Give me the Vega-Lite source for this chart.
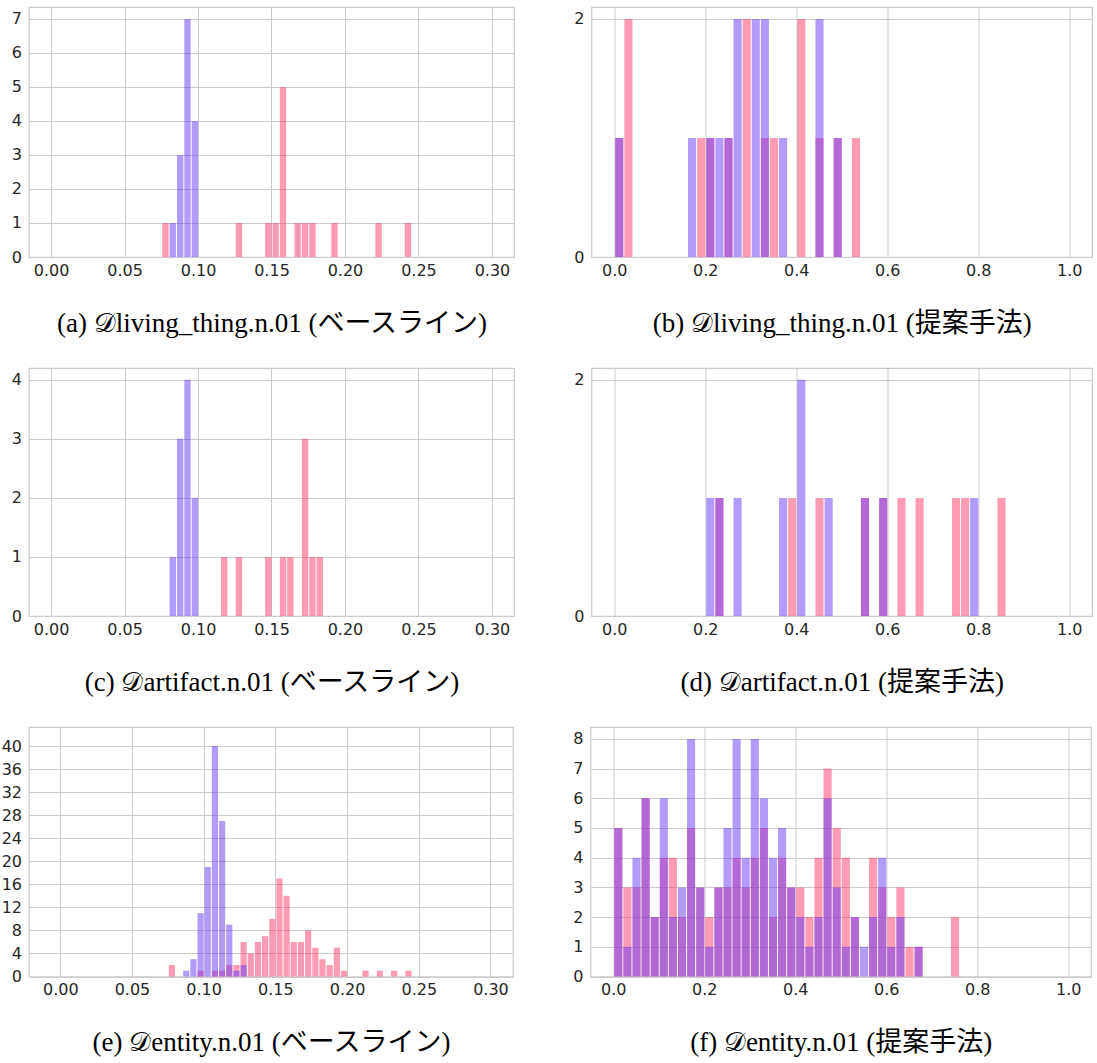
{
  "$schema": "https://vega.github.io/schema/vega-lite/v6.json",
  "autosize": {"type": "pad"},
  "padding": {"left": 0, "top": 6, "right": 0, "bottom": 0},
  "background": "white",
  "config": {
    "view": {"stroke": "#cccccc", "strokeWidth": 1.25},
    "bar": {"binSpacing": 1},
    "axis": {
      "domain": false, "ticks": false, "grid": true, "gridColor": "#cccccc", "gridWidth": 1,
      "labelFont": "DejaVu Sans", "labelFontSize": 16, "labelColor": "#262626", "labelFlush": false, "labelOverlap": false,
      "titleFont": "Liberation Serif, DejaVu Serif, Noto Sans CJK JP", "titleFontSize": 27, "titleFontWeight": "normal", "titleColor": "#000000"
    },
    "axisX": {"labelPadding": 5, "titlePadding": 32},
    "axisY": {"labelPadding": 7.5}
  },
  "data": {"values": [
    {"p":"a","s":"s2","x0":0.075,"x1":0.080,"n":1},
    {"p":"a","s":"s2","x0":0.125,"x1":0.130,"n":1},
    {"p":"a","s":"s2","x0":0.145,"x1":0.150,"n":1},
    {"p":"a","s":"s2","x0":0.150,"x1":0.155,"n":1},
    {"p":"a","s":"s2","x0":0.155,"x1":0.160,"n":5},
    {"p":"a","s":"s2","x0":0.165,"x1":0.170,"n":1},
    {"p":"a","s":"s2","x0":0.170,"x1":0.175,"n":1},
    {"p":"a","s":"s2","x0":0.175,"x1":0.180,"n":1},
    {"p":"a","s":"s2","x0":0.190,"x1":0.195,"n":1},
    {"p":"a","s":"s2","x0":0.220,"x1":0.225,"n":1},
    {"p":"a","s":"s2","x0":0.240,"x1":0.245,"n":1},
    {"p":"a","s":"s1","x0":0.080,"x1":0.085,"n":1},
    {"p":"a","s":"s1","x0":0.085,"x1":0.090,"n":3},
    {"p":"a","s":"s1","x0":0.090,"x1":0.095,"n":7},
    {"p":"a","s":"s1","x0":0.095,"x1":0.100,"n":4},

    {"p":"b","s":"s1","x0":0.00,"x1":0.02,"n":1},
    {"p":"b","s":"s1","x0":0.16,"x1":0.18,"n":1},
    {"p":"b","s":"s1","x0":0.20,"x1":0.22,"n":1},
    {"p":"b","s":"s1","x0":0.22,"x1":0.24,"n":1},
    {"p":"b","s":"s1","x0":0.24,"x1":0.26,"n":1},
    {"p":"b","s":"s1","x0":0.26,"x1":0.28,"n":2},
    {"p":"b","s":"s1","x0":0.30,"x1":0.32,"n":2},
    {"p":"b","s":"s1","x0":0.32,"x1":0.34,"n":2},
    {"p":"b","s":"s1","x0":0.36,"x1":0.38,"n":1},
    {"p":"b","s":"s1","x0":0.44,"x1":0.46,"n":2},
    {"p":"b","s":"s1","x0":0.48,"x1":0.50,"n":1},
    {"p":"b","s":"s2","x0":0.00,"x1":0.02,"n":1},
    {"p":"b","s":"s2","x0":0.02,"x1":0.04,"n":2},
    {"p":"b","s":"s2","x0":0.18,"x1":0.20,"n":1},
    {"p":"b","s":"s2","x0":0.20,"x1":0.22,"n":1},
    {"p":"b","s":"s2","x0":0.24,"x1":0.26,"n":1},
    {"p":"b","s":"s2","x0":0.28,"x1":0.30,"n":2},
    {"p":"b","s":"s2","x0":0.32,"x1":0.34,"n":1},
    {"p":"b","s":"s2","x0":0.34,"x1":0.36,"n":1},
    {"p":"b","s":"s2","x0":0.40,"x1":0.42,"n":2},
    {"p":"b","s":"s2","x0":0.44,"x1":0.46,"n":1},
    {"p":"b","s":"s2","x0":0.48,"x1":0.50,"n":1},
    {"p":"b","s":"s2","x0":0.52,"x1":0.54,"n":1},

    {"p":"c","s":"s1","x0":0.080,"x1":0.085,"n":1},
    {"p":"c","s":"s1","x0":0.085,"x1":0.090,"n":3},
    {"p":"c","s":"s1","x0":0.090,"x1":0.095,"n":4},
    {"p":"c","s":"s1","x0":0.095,"x1":0.100,"n":2},
    {"p":"c","s":"s2","x0":0.115,"x1":0.120,"n":1},
    {"p":"c","s":"s2","x0":0.125,"x1":0.130,"n":1},
    {"p":"c","s":"s2","x0":0.145,"x1":0.150,"n":1},
    {"p":"c","s":"s2","x0":0.155,"x1":0.160,"n":1},
    {"p":"c","s":"s2","x0":0.160,"x1":0.165,"n":1},
    {"p":"c","s":"s2","x0":0.170,"x1":0.175,"n":3},
    {"p":"c","s":"s2","x0":0.175,"x1":0.180,"n":1},
    {"p":"c","s":"s2","x0":0.180,"x1":0.185,"n":1},

    {"p":"d","s":"s1","x0":0.20,"x1":0.22,"n":1},
    {"p":"d","s":"s1","x0":0.22,"x1":0.24,"n":1},
    {"p":"d","s":"s1","x0":0.26,"x1":0.28,"n":1},
    {"p":"d","s":"s1","x0":0.36,"x1":0.38,"n":1},
    {"p":"d","s":"s1","x0":0.40,"x1":0.42,"n":2},
    {"p":"d","s":"s1","x0":0.46,"x1":0.48,"n":1},
    {"p":"d","s":"s1","x0":0.54,"x1":0.56,"n":1},
    {"p":"d","s":"s1","x0":0.58,"x1":0.60,"n":1},
    {"p":"d","s":"s1","x0":0.78,"x1":0.80,"n":1},
    {"p":"d","s":"s2","x0":0.22,"x1":0.24,"n":1},
    {"p":"d","s":"s2","x0":0.38,"x1":0.40,"n":1},
    {"p":"d","s":"s2","x0":0.44,"x1":0.46,"n":1},
    {"p":"d","s":"s2","x0":0.54,"x1":0.56,"n":1},
    {"p":"d","s":"s2","x0":0.58,"x1":0.60,"n":1},
    {"p":"d","s":"s2","x0":0.62,"x1":0.64,"n":1},
    {"p":"d","s":"s2","x0":0.66,"x1":0.68,"n":1},
    {"p":"d","s":"s2","x0":0.74,"x1":0.76,"n":1},
    {"p":"d","s":"s2","x0":0.76,"x1":0.78,"n":1},
    {"p":"d","s":"s2","x0":0.84,"x1":0.86,"n":1},

    {"p":"e","s":"s2","x0":0.075,"x1":0.080,"n":2},
    {"p":"e","s":"s2","x0":0.095,"x1":0.100,"n":1},
    {"p":"e","s":"s2","x0":0.105,"x1":0.110,"n":1},
    {"p":"e","s":"s2","x0":0.110,"x1":0.115,"n":1},
    {"p":"e","s":"s2","x0":0.115,"x1":0.120,"n":2},
    {"p":"e","s":"s2","x0":0.120,"x1":0.125,"n":2},
    {"p":"e","s":"s2","x0":0.125,"x1":0.130,"n":6},
    {"p":"e","s":"s2","x0":0.130,"x1":0.135,"n":4},
    {"p":"e","s":"s2","x0":0.135,"x1":0.140,"n":6},
    {"p":"e","s":"s2","x0":0.140,"x1":0.145,"n":7},
    {"p":"e","s":"s2","x0":0.145,"x1":0.150,"n":10},
    {"p":"e","s":"s2","x0":0.150,"x1":0.155,"n":17},
    {"p":"e","s":"s2","x0":0.155,"x1":0.160,"n":14},
    {"p":"e","s":"s2","x0":0.160,"x1":0.165,"n":6},
    {"p":"e","s":"s2","x0":0.165,"x1":0.170,"n":6},
    {"p":"e","s":"s2","x0":0.170,"x1":0.175,"n":8},
    {"p":"e","s":"s2","x0":0.175,"x1":0.180,"n":5},
    {"p":"e","s":"s2","x0":0.180,"x1":0.185,"n":3},
    {"p":"e","s":"s2","x0":0.185,"x1":0.190,"n":2},
    {"p":"e","s":"s2","x0":0.190,"x1":0.195,"n":5},
    {"p":"e","s":"s2","x0":0.195,"x1":0.200,"n":1},
    {"p":"e","s":"s2","x0":0.210,"x1":0.215,"n":1},
    {"p":"e","s":"s2","x0":0.220,"x1":0.225,"n":1},
    {"p":"e","s":"s2","x0":0.230,"x1":0.235,"n":1},
    {"p":"e","s":"s2","x0":0.240,"x1":0.245,"n":1},
    {"p":"e","s":"s1","x0":0.085,"x1":0.090,"n":1},
    {"p":"e","s":"s1","x0":0.090,"x1":0.095,"n":3},
    {"p":"e","s":"s1","x0":0.095,"x1":0.100,"n":11},
    {"p":"e","s":"s1","x0":0.100,"x1":0.105,"n":19},
    {"p":"e","s":"s1","x0":0.105,"x1":0.110,"n":40},
    {"p":"e","s":"s1","x0":0.110,"x1":0.115,"n":27},
    {"p":"e","s":"s1","x0":0.115,"x1":0.120,"n":9},
    {"p":"e","s":"s1","x0":0.120,"x1":0.125,"n":1},
    {"p":"e","s":"s1","x0":0.125,"x1":0.130,"n":2},

    {"p":"f","s":"s1","x0":0.00,"x1":0.02,"n":5},
    {"p":"f","s":"s1","x0":0.02,"x1":0.04,"n":1},
    {"p":"f","s":"s1","x0":0.04,"x1":0.06,"n":4},
    {"p":"f","s":"s1","x0":0.06,"x1":0.08,"n":6},
    {"p":"f","s":"s1","x0":0.08,"x1":0.10,"n":2},
    {"p":"f","s":"s1","x0":0.10,"x1":0.12,"n":6},
    {"p":"f","s":"s1","x0":0.12,"x1":0.14,"n":2},
    {"p":"f","s":"s1","x0":0.14,"x1":0.16,"n":3},
    {"p":"f","s":"s1","x0":0.16,"x1":0.18,"n":8},
    {"p":"f","s":"s1","x0":0.18,"x1":0.20,"n":3},
    {"p":"f","s":"s1","x0":0.20,"x1":0.22,"n":1},
    {"p":"f","s":"s1","x0":0.22,"x1":0.24,"n":3},
    {"p":"f","s":"s1","x0":0.24,"x1":0.26,"n":5},
    {"p":"f","s":"s1","x0":0.26,"x1":0.28,"n":8},
    {"p":"f","s":"s1","x0":0.28,"x1":0.30,"n":4},
    {"p":"f","s":"s1","x0":0.30,"x1":0.32,"n":8},
    {"p":"f","s":"s1","x0":0.32,"x1":0.34,"n":6},
    {"p":"f","s":"s1","x0":0.34,"x1":0.36,"n":4},
    {"p":"f","s":"s1","x0":0.36,"x1":0.38,"n":5},
    {"p":"f","s":"s1","x0":0.38,"x1":0.40,"n":3},
    {"p":"f","s":"s1","x0":0.40,"x1":0.42,"n":2},
    {"p":"f","s":"s1","x0":0.42,"x1":0.44,"n":1},
    {"p":"f","s":"s1","x0":0.44,"x1":0.46,"n":2},
    {"p":"f","s":"s1","x0":0.46,"x1":0.48,"n":6},
    {"p":"f","s":"s1","x0":0.48,"x1":0.50,"n":3},
    {"p":"f","s":"s1","x0":0.50,"x1":0.52,"n":1},
    {"p":"f","s":"s1","x0":0.52,"x1":0.54,"n":2},
    {"p":"f","s":"s1","x0":0.54,"x1":0.56,"n":1},
    {"p":"f","s":"s1","x0":0.56,"x1":0.58,"n":2},
    {"p":"f","s":"s1","x0":0.58,"x1":0.60,"n":4},
    {"p":"f","s":"s1","x0":0.60,"x1":0.62,"n":1},
    {"p":"f","s":"s1","x0":0.62,"x1":0.64,"n":2},
    {"p":"f","s":"s1","x0":0.66,"x1":0.68,"n":1},
    {"p":"f","s":"s2","x0":0.00,"x1":0.02,"n":5},
    {"p":"f","s":"s2","x0":0.02,"x1":0.04,"n":3},
    {"p":"f","s":"s2","x0":0.04,"x1":0.06,"n":3},
    {"p":"f","s":"s2","x0":0.06,"x1":0.08,"n":6},
    {"p":"f","s":"s2","x0":0.08,"x1":0.10,"n":2},
    {"p":"f","s":"s2","x0":0.10,"x1":0.12,"n":4},
    {"p":"f","s":"s2","x0":0.12,"x1":0.14,"n":4},
    {"p":"f","s":"s2","x0":0.14,"x1":0.16,"n":2},
    {"p":"f","s":"s2","x0":0.16,"x1":0.18,"n":5},
    {"p":"f","s":"s2","x0":0.18,"x1":0.20,"n":3},
    {"p":"f","s":"s2","x0":0.20,"x1":0.22,"n":2},
    {"p":"f","s":"s2","x0":0.22,"x1":0.24,"n":3},
    {"p":"f","s":"s2","x0":0.24,"x1":0.26,"n":3},
    {"p":"f","s":"s2","x0":0.26,"x1":0.28,"n":4},
    {"p":"f","s":"s2","x0":0.28,"x1":0.30,"n":3},
    {"p":"f","s":"s2","x0":0.30,"x1":0.32,"n":4},
    {"p":"f","s":"s2","x0":0.32,"x1":0.34,"n":5},
    {"p":"f","s":"s2","x0":0.34,"x1":0.36,"n":2},
    {"p":"f","s":"s2","x0":0.36,"x1":0.38,"n":4},
    {"p":"f","s":"s2","x0":0.38,"x1":0.40,"n":3},
    {"p":"f","s":"s2","x0":0.40,"x1":0.42,"n":3},
    {"p":"f","s":"s2","x0":0.42,"x1":0.44,"n":2},
    {"p":"f","s":"s2","x0":0.44,"x1":0.46,"n":4},
    {"p":"f","s":"s2","x0":0.46,"x1":0.48,"n":7},
    {"p":"f","s":"s2","x0":0.48,"x1":0.50,"n":5},
    {"p":"f","s":"s2","x0":0.50,"x1":0.52,"n":4},
    {"p":"f","s":"s2","x0":0.52,"x1":0.54,"n":2},
    {"p":"f","s":"s2","x0":0.56,"x1":0.58,"n":4},
    {"p":"f","s":"s2","x0":0.58,"x1":0.60,"n":3},
    {"p":"f","s":"s2","x0":0.60,"x1":0.62,"n":2},
    {"p":"f","s":"s2","x0":0.62,"x1":0.64,"n":3},
    {"p":"f","s":"s2","x0":0.64,"x1":0.66,"n":1},
    {"p":"f","s":"s2","x0":0.66,"x1":0.68,"n":1},
    {"p":"f","s":"s2","x0":0.74,"x1":0.76,"n":2}
  ]},
  "align": "none",
  "spacing": 30,
  "vconcat": [
    {"hconcat": [
      {
        "width": 485, "height": 250,
        "transform": [{"filter": "datum.p == 'a'"}],
        "encoding": {
          "x": {"field": "x0", "type": "quantitative", "bin": "binned", "scale": {"domain": [-0.015, 0.315], "nice": false, "zero": false},
                "axis": {"title": "(a) 𝒟living_thing.n.01 (ベースライン)", "values": [0, 0.05, 0.1, 0.15, 0.2, 0.25, 0.3], "format": ".2f"}},
          "x2": {"field": "x1"},
          "y": {"field": "n", "type": "quantitative", "stack": null, "scale": {"domain": [0, 7.35], "nice": false},
                "axis": {"title": null, "values": [0, 1, 2, 3, 4, 5, 6, 7], "format": "d"}}
        },
        "layer": [
          {"transform": [{"filter": "datum.s == 's2'"}], "mark": {"type": "bar", "color": "#ff3767", "opacity": 0.5}},
          {"transform": [{"filter": "datum.s == 's1'"}], "mark": {"type": "bar", "color": "#6737f7", "opacity": 0.5}}
        ]
      },
      {
        "width": 500.5, "height": 250,
        "transform": [{"filter": "datum.p == 'b'"}],
        "encoding": {
          "x": {"field": "x0", "type": "quantitative", "bin": "binned", "scale": {"domain": [-0.05, 1.05], "nice": false, "zero": false},
                "axis": {"title": "(b) 𝒟living_thing.n.01 (提案手法)", "values": [0, 0.2, 0.4, 0.6, 0.8, 1.0], "format": ".1f"}},
          "x2": {"field": "x1"},
          "y": {"field": "n", "type": "quantitative", "stack": null, "scale": {"domain": [0, 2.1], "nice": false},
                "axis": {"title": null, "values": [0, 1, 2], "format": "d"}}
        },
        "layer": [
          {"transform": [{"filter": "datum.s == 's2'"}], "mark": {"type": "bar", "color": "#ff3767", "opacity": 0.5}},
          {"transform": [{"filter": "datum.s == 's1'"}], "mark": {"type": "bar", "color": "#6737f7", "opacity": 0.5}}
        ]
      }
    ], "spacing": 57.5, "align": "none"},
    {"hconcat": [
      {
        "width": 485, "height": 248,
        "transform": [{"filter": "datum.p == 'c'"}],
        "encoding": {
          "x": {"field": "x0", "type": "quantitative", "bin": "binned", "scale": {"domain": [-0.015, 0.315], "nice": false, "zero": false},
                "axis": {"title": "(c) 𝒟artifact.n.01 (ベースライン)", "values": [0, 0.05, 0.1, 0.15, 0.2, 0.25, 0.3], "format": ".2f"}},
          "x2": {"field": "x1"},
          "y": {"field": "n", "type": "quantitative", "stack": null, "scale": {"domain": [0, 4.2], "nice": false},
                "axis": {"title": null, "values": [0, 1, 2, 3, 4], "format": "d"}}
        },
        "layer": [
          {"transform": [{"filter": "datum.s == 's2'"}], "mark": {"type": "bar", "color": "#ff3767", "opacity": 0.5}},
          {"transform": [{"filter": "datum.s == 's1'"}], "mark": {"type": "bar", "color": "#6737f7", "opacity": 0.5}}
        ]
      },
      {
        "width": 500.5, "height": 248,
        "transform": [{"filter": "datum.p == 'd'"}],
        "encoding": {
          "x": {"field": "x0", "type": "quantitative", "bin": "binned", "scale": {"domain": [-0.05, 1.05], "nice": false, "zero": false},
                "axis": {"title": "(d) 𝒟artifact.n.01 (提案手法)", "values": [0, 0.2, 0.4, 0.6, 0.8, 1.0], "format": ".1f"}},
          "x2": {"field": "x1"},
          "y": {"field": "n", "type": "quantitative", "stack": null, "scale": {"domain": [0, 2.1], "nice": false},
                "axis": {"title": null, "values": [0, 1, 2], "format": "d"}}
        },
        "layer": [
          {"transform": [{"filter": "datum.s == 's2'"}], "mark": {"type": "bar", "color": "#ff3767", "opacity": 0.5}},
          {"transform": [{"filter": "datum.s == 's1'"}], "mark": {"type": "bar", "color": "#6737f7", "opacity": 0.5}}
        ]
      }
    ], "spacing": 57.5, "align": "none"},
    {"hconcat": [
      {
        "width": 484, "height": 249.5,
        "transform": [{"filter": "datum.p == 'e'"}],
        "encoding": {
          "x": {"field": "x0", "type": "quantitative", "bin": "binned", "scale": {"domain": [-0.0218, 0.3157], "nice": false, "zero": false},
                "axis": {"title": "(e) 𝒟entity.n.01 (ベースライン)", "values": [0, 0.05, 0.1, 0.15, 0.2, 0.25, 0.3], "format": ".2f"}},
          "x2": {"field": "x1"},
          "y": {"field": "n", "type": "quantitative", "stack": null, "scale": {"domain": [0, 43.3], "nice": false},
                "axis": {"title": null, "values": [0, 4, 8, 12, 16, 20, 24, 28, 32, 36, 40], "format": "d"}}
        },
        "layer": [
          {"transform": [{"filter": "datum.s == 's2'"}], "mark": {"type": "bar", "color": "#ff3767", "opacity": 0.5}},
          {"transform": [{"filter": "datum.s == 's1'"}], "mark": {"type": "bar", "color": "#6737f7", "opacity": 0.5}}
        ]
      },
      {
        "width": 500.5, "height": 249.5,
        "transform": [{"filter": "datum.p == 'f'"}],
        "encoding": {
          "x": {"field": "x0", "type": "quantitative", "bin": "binned", "scale": {"domain": [-0.05, 1.05], "nice": false, "zero": false},
                "axis": {"title": "(f) 𝒟entity.n.01 (提案手法)", "values": [0, 0.2, 0.4, 0.6, 0.8, 1.0], "format": ".1f"}},
          "x2": {"field": "x1"},
          "y": {"field": "n", "type": "quantitative", "stack": null, "scale": {"domain": [0, 8.4], "nice": false},
                "axis": {"title": null, "values": [0, 1, 2, 3, 4, 5, 6, 7, 8], "format": "d"}}
        },
        "layer": [
          {"transform": [{"filter": "datum.s == 's2'"}], "mark": {"type": "bar", "color": "#ff3767", "opacity": 0.5}},
          {"transform": [{"filter": "datum.s == 's1'"}], "mark": {"type": "bar", "color": "#6737f7", "opacity": 0.5}}
        ]
      }
    ], "spacing": 57.5, "align": "none"}
  ]
}
